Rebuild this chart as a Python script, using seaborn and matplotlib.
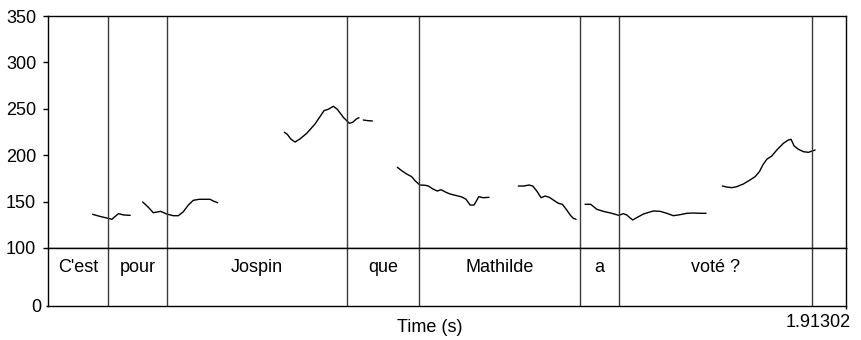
import matplotlib
matplotlib.use("Agg")
import matplotlib.pyplot as plt
import matplotlib.transforms as mtransforms
import pandas as pd
import seaborn as sns

# ---- data -------------------------------------------------------------
DURATION = 1.91302

# interval tier: boundary times (s) and the word in each interval
boundaries = [0.1438, 0.2853, 0.7168, 0.8895, 1.2755, 1.3690, 1.8317]
words = ["C'est", "pour", "Jospin", "que", "Mathilde", "a", "voté ?", ""]

# voiced stretches of the pitch track: time (s) and F0 (Hz)
seg1_t = [0.107, 0.125, 0.144, 0.153, 0.161, 0.169, 0.181, 0.197]
seg1_f = [136.3, 134.0, 132.0, 130.9, 134.0, 137.0, 135.6, 135.2]

seg2_t = [0.227, 0.2405, 0.2525, 0.270, 0.2846, 0.3004, 0.3124, 0.3244,
          0.3364, 0.3484, 0.3627, 0.3884, 0.3963, 0.4068]
seg2_f = [149.6, 143.9, 138.0, 139.5, 136.6, 134.8, 134.8, 139.1,
          146.3, 151.4, 152.5, 152.5, 150.6, 148.8]

seg3_t = [0.5665, 0.5737, 0.5819, 0.5922, 0.6042, 0.6202, 0.6401, 0.6617,
          0.672, 0.684, 0.6936, 0.708, 0.7224, 0.7305, 0.7401, 0.7456]
seg3_f = [224.7, 222.5, 217.5, 214.2, 217.5, 223.6, 233.6, 248.0,
          249.5, 252.7, 249.5, 240.8, 234.4, 235.5, 239.3, 240.4]

seg4_t = [0.756, 0.767, 0.7775]
seg4_f = [237.9, 237.2, 236.9]

seg5_t = [0.8374, 0.848, 0.860, 0.872, 0.880, 0.8912, 0.904, 0.9118, 0.9238,
          0.9334, 0.9422, 0.9542, 0.9638, 0.9799, 0.9919, 1.0022, 1.0118,
          1.0213, 1.0293, 1.0326, 1.0436, 1.0573]
seg5_f = [187.0, 183.3, 179.7, 176.8, 172.5, 167.9, 167.6, 166.8, 163.3,
          161.4, 162.8, 160.0, 158.2, 156.4, 155.0, 152.5, 146.3,
          146.3, 152.5, 155.3, 154.2, 154.6]

seg6_t = [1.1275, 1.1412, 1.1532, 1.1621, 1.1717, 1.182, 1.1916, 1.2019,
          1.2115, 1.2235, 1.2331, 1.2436, 1.2532, 1.2594, 1.2659]
seg6_f = [166.8, 166.8, 167.9, 166.8, 161.4, 154.2, 156.0, 154.6,
          151.7, 148.2, 147.1, 140.9, 134.8, 132.0, 130.9]

seg7_t = [1.2875, 1.3011, 1.3155, 1.3313, 1.3515, 1.3683, 1.3793, 1.3874,
          1.3937, 1.4018, 1.4114, 1.4272, 1.4512, 1.4673, 1.4833, 1.4991,
          1.5152, 1.5313, 1.5471, 1.5632, 1.5776]
seg7_f = [147.1, 147.1, 141.7, 139.5, 137.4, 135.2, 137.0, 135.6,
          133.1, 130.2, 132.7, 136.6, 139.9, 139.5, 137.4, 134.8,
          135.9, 137.4, 137.7, 137.4, 137.4]

seg8_t = [1.6166, 1.6272, 1.6391, 1.6511, 1.667, 1.683, 1.695, 1.7054,
          1.7135, 1.7231, 1.7351, 1.7471, 1.7629, 1.7749, 1.7814, 1.7886,
          1.7989, 1.8109, 1.8229, 1.8318, 1.8390]
seg8_f = [166.8, 165.7, 165.0, 166.1, 169.0, 173.3, 176.8, 182.2,
          189.4, 195.6, 199.1, 205.6, 212.8, 216.4, 217.1, 209.9,
          206.4, 203.8, 203.1, 204.5, 205.6]

pitch_ticks = [100, 150, 200, 250, 300, 350]

# ---- table ------------------------------------------------------------
segments = [(seg1_t, seg1_f), (seg2_t, seg2_f), (seg3_t, seg3_f),
            (seg4_t, seg4_f), (seg5_t, seg5_f), (seg6_t, seg6_f),
            (seg7_t, seg7_f), (seg8_t, seg8_f)]
rows = []
for i, (ts, fs) in enumerate(segments):
    for t, f in zip(ts, fs):
        rows.append({"time": t, "f0": f, "segment": i})
pitch = pd.DataFrame(rows)

# ---- figure -----------------------------------------------------------
sns.set_theme(style="white")
plt.rcParams["font.family"] = ["Liberation Sans", "DejaVu Sans"]
plt.rcParams["axes.edgecolor"] = "black"
plt.rcParams["axes.linewidth"] = 1.0

fig = plt.figure(figsize=(8.61, 3.40), dpi=100)
ax_p = fig.add_axes([0.05575, 0.27059, 0.92683, 0.68235])
ax_t = fig.add_axes([0.05575, 0.10000, 0.92683, 0.17059], sharex=ax_p)

sns.lineplot(data=pitch, x="time", y="f0", units="segment", estimator=None,
             sort=False, color="black", linewidth=1.0, ax=ax_p, legend=False)

ax_p.set_xlim(0, DURATION)
ax_p.set_ylim(100, 350)
ax_p.set_yticks(pitch_ticks)
ax_p.set_yticklabels([str(v) for v in pitch_ticks])
ax_p.set_xlabel("")
ax_p.set_ylabel("")
ax_p.tick_params(axis="y", left=True, length=3.5, width=1.0, pad=5,
                 labelsize=13, colors="black", direction="out")
ax_p.tick_params(axis="x", bottom=False, labelbottom=False)

# word boundaries through both panels
for b in boundaries:
    ax_p.axvline(b, color="#3c3c3c", linewidth=1.0)
    ax_t.axvline(b, color="#3c3c3c", linewidth=1.0)

# interval labels
edges = [0.0] + boundaries + [DURATION]
for lo, hi, w in zip(edges[:-1], edges[1:], words):
    if w:
        ax_t.text((lo + hi) / 2, 0.586, w, ha="center", va="baseline",
                  fontsize=13, color="black",
                  transform=ax_t.get_xaxis_transform())

ax_t.set_ylim(0, 1)
ax_t.set_yticks([0])
ax_t.set_yticklabels(["0"])
ax_t.tick_params(axis="y", left=True, length=1.5, width=1.0, pad=3,
                 labelsize=13, colors="black", direction="out")
ax_t.set_xticks([DURATION])
ax_t.set_xticklabels(["1.91302"], ha="right")
ax_t.tick_params(axis="x", bottom=True, length=2.5, width=1.0, pad=3.5,
                 labelsize=13, colors="black", direction="out")
shift = mtransforms.ScaledTranslation(0.05, 0, fig.dpi_scale_trans)
for lab in ax_t.get_xticklabels():
    lab.set_transform(lab.get_transform() + shift)

ax_t.set_xlabel("Time (s)", fontsize=13, color="black")
ax_t.xaxis.set_label_coords(0.479, -0.379)
ax_t.xaxis.label.set_va("center")

fig.savefig("out.png", dpi=100)
